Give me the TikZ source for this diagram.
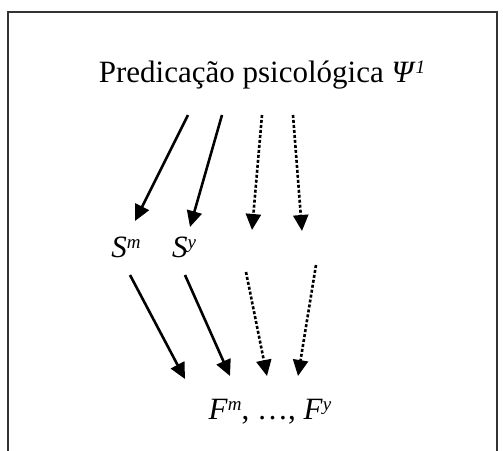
\documentclass[tikz,border=0pt]{standalone}
\usepackage{fontspec}
\setmainfont{Liberation Serif}
\usetikzlibrary{arrows.meta}
\begin{document}
\begin{tikzpicture}[x=1pt,y=-1pt,
  lbl/.style={inner sep=0pt,anchor=base,font=\fontsize{31}{34}\selectfont},
  arr/.style={line width=2.6pt,-{Triangle[length=16pt,width=15pt]}},
  darr/.style={arr,dash pattern=on 3pt off 2pt},
  frame/.style={line width=1.2pt,draw=black!80}]
\useasboundingbox (0,0) rectangle (503,450);
\fill[white] (0,0) rectangle (503,450);
\draw[frame] (8,452) -- (8,12) -- (497,12) -- (497,452);
\newcommand{\sups}[1]{\raisebox{0.6ex}{\fontsize{19}{21}\selectfont\itshape #1}}
\node[lbl] (t) at (262,82) {Predicação psicológica \textit{Ψ}\sups{1}};
\node[lbl] (sm) at (126,257) {\textit{S}\sups{m}};
\node[lbl] (sy) at (184,257) {\textit{S}\sups{y}};
\node[lbl] (f) at (270,419) {\textit{F}\sups{m}, …, \textit{F}\sups{y}};
% upper arrows
\coordinate (a1) at (188,115); \coordinate (b1) at (135,221);
\coordinate (a2) at (222,115); \coordinate (b2) at (190,227);
\coordinate (a3) at (262,115); \coordinate (b3) at (252,230);
\coordinate (a4) at (293,115); \coordinate (b4) at (302,231);
\draw[arr] (a1) -- (b1);
\draw[arr] (a2) -- (b2);
\draw[darr] (a3) -- (b3);
\draw[darr] (a4) -- (b4);
% lower arrows
\coordinate (c1) at (130,275); \coordinate (d1) at (185,379);
\coordinate (c2) at (185,275); \coordinate (d2) at (230,376);
\coordinate (c3) at (246,272); \coordinate (d3) at (267,376);
\coordinate (c4) at (316,265); \coordinate (d4) at (298,376);
\draw[arr] (c1) -- (d1);
\draw[arr] (c2) -- (d2);
\draw[darr] (c3) -- (d3);
\draw[darr] (c4) -- (d4);
\end{tikzpicture}
\end{document}
